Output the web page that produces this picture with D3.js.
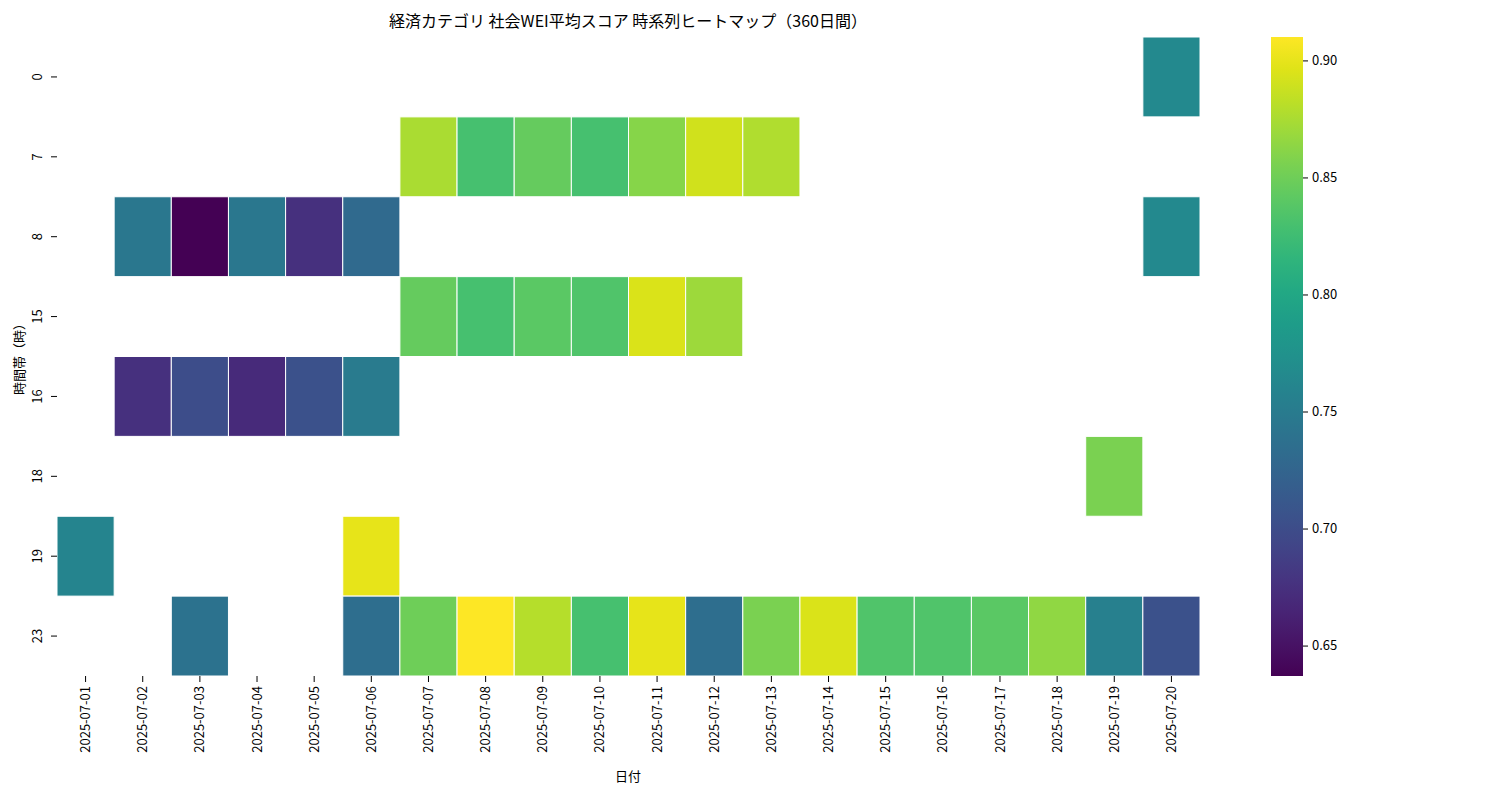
<!DOCTYPE html>
<html><head><meta charset="utf-8">
<script src="https://cdn.jsdelivr.net/npm/d3@7"></script>
<style>body{margin:0;background:#fff;font-family:"Noto Sans CJK JP","Noto Sans",sans-serif;} svg text{font-family:"Noto Sans CJK JP","Noto Sans",sans-serif;}</style>
</head><body><svg id="c" width="1500" height="800"></svg>
<script>
const dates = ["2025-07-01","2025-07-02","2025-07-03","2025-07-04","2025-07-05","2025-07-06","2025-07-07","2025-07-08","2025-07-09","2025-07-10","2025-07-11","2025-07-12","2025-07-13","2025-07-14","2025-07-15","2025-07-16","2025-07-17","2025-07-18","2025-07-19","2025-07-20"];
const hours = ["0","7","8","15","16","18","19","23"];
const hour0  = {"2025-07-20":0.765};
const hour7  = {"2025-07-07":0.875,"2025-07-08":0.83,"2025-07-09":0.845,"2025-07-10":0.83,"2025-07-11":0.86,"2025-07-12":0.89,"2025-07-13":0.878};
const hour8  = {"2025-07-02":0.745,"2025-07-03":0.637,"2025-07-04":0.745,"2025-07-05":0.675,"2025-07-06":0.73,"2025-07-20":0.765};
const hour15 = {"2025-07-07":0.845,"2025-07-08":0.83,"2025-07-09":0.84,"2025-07-10":0.835,"2025-07-11":0.895,"2025-07-12":0.87};
const hour16 = {"2025-07-02":0.675,"2025-07-03":0.70,"2025-07-04":0.67,"2025-07-05":0.705,"2025-07-06":0.75};
const hour18 = {"2025-07-19":0.855};
const hour19 = {"2025-07-01":0.76,"2025-07-06":0.90};
const hour23 = {"2025-07-03":0.74,"2025-07-06":0.735,"2025-07-07":0.85,"2025-07-08":0.91,"2025-07-09":0.88,"2025-07-10":0.83,"2025-07-11":0.90,"2025-07-12":0.735,"2025-07-13":0.855,"2025-07-14":0.895,"2025-07-15":0.835,"2025-07-16":0.835,"2025-07-17":0.84,"2025-07-18":0.865,"2025-07-19":0.755,"2025-07-20":0.705};
const rowsData = [hour0,hour7,hour8,hour15,hour16,hour18,hour19,hour23];
const cbTicks = [0.65,0.70,0.75,0.80,0.85,0.90];
const vmin = 0.637, vmax = 0.910;

const svg = d3.select("#c");
const x = d3.scaleBand().domain(dates).range([57,1200]);
const y = d3.scaleBand().domain(hours).range([37,676]);
const color = d3.scaleSequential(d3.interpolateViridis).domain([vmin,vmax]);
const cells = [];
rowsData.forEach((r,i)=>{ for(const d in r) cells.push({h:hours[i],d,v:r[d]}); });
svg.append("g").selectAll("rect").data(cells).join("rect")
  .attr("x",c=>x(c.d)).attr("y",c=>y(c.h)).attr("width",x.bandwidth()).attr("height",y.bandwidth())
  .attr("fill",c=>color(c.v)).attr("stroke","#fff").attr("stroke-width",1);

const xa = svg.append("g").attr("transform","translate(0,676)").call(d3.axisBottom(x).tickSize(6).tickPadding(4));
xa.select(".domain").remove();
xa.selectAll("text").attr("transform","translate(0,10) rotate(-90)").attr("text-anchor","end").attr("x",0).attr("y",0).attr("dy","0.35em")
  .style("font-size","13px").attr("fill","#000");
xa.selectAll("line").attr("stroke","#000");
const ya = svg.append("g").attr("transform","translate(57,0)").call(d3.axisLeft(y).tickSize(6).tickPadding(4));
ya.select(".domain").remove();
ya.selectAll("text").attr("transform","translate(-15,0) rotate(-90)").attr("x",0).attr("y",0).attr("dy","0").attr("text-anchor","middle")
  .style("font-size","13px").attr("fill","#000");
ya.selectAll("line").attr("stroke","#000");

svg.append("text").attr("x",628).attr("y",781).attr("text-anchor","middle").style("font-size","13px").text("日付");
svg.append("text").attr("transform","translate(24,356) rotate(-90)").attr("text-anchor","middle").style("font-size","13px").text("時間帯（時）");
svg.append("text").attr("x",628).attr("y",27).attr("text-anchor","middle").style("font-size","16px").text("経済カテゴリ 社会WEI平均スコア 時系列ヒートマップ（360日間）");

const defs = svg.append("defs");
const grad = defs.append("linearGradient").attr("id","g").attr("x1",0).attr("y1",1).attr("x2",0).attr("y2",0);
d3.range(0,1.001,0.05).forEach(t=>grad.append("stop").attr("offset",t).attr("stop-color",d3.interpolateViridis(t)));
const cy = d3.scaleLinear().domain([vmin,vmax]).range([676,37]);
svg.append("rect").attr("x",1271).attr("y",37).attr("width",32).attr("height",639).attr("fill","url(#g)");
const ca = svg.append("g").attr("transform","translate(1303,0)").call(d3.axisRight(cy).tickValues(cbTicks).tickFormat(d3.format(".2f")).tickSize(5).tickPadding(4));
ca.select(".domain").remove();
ca.selectAll("text").style("font-size","13px");
</script></body></html>
